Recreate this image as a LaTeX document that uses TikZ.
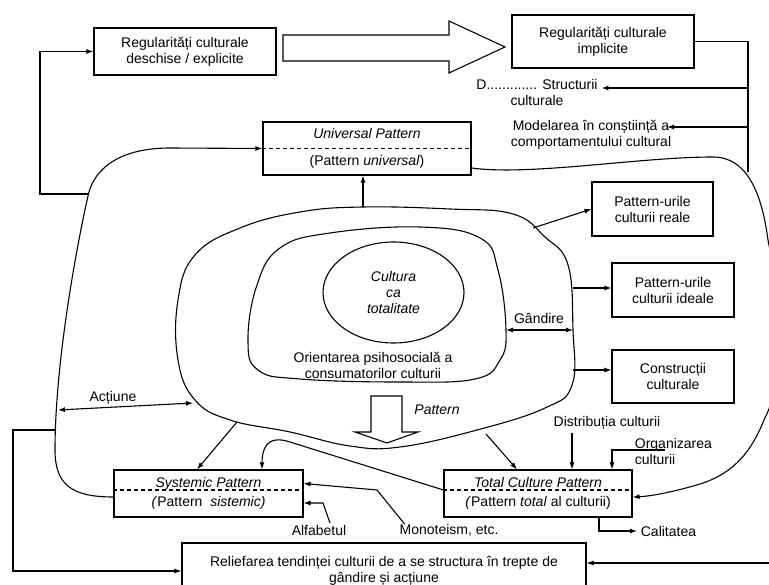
\documentclass[tikz,border=0pt]{standalone}
\usepackage{fontspec}
\setmainfont{Liberation Sans}
\usetikzlibrary{calc, positioning, arrows.meta, shapes.geometric}

\begin{document}
\begin{tikzpicture}[x=1pt, y=-1pt, line width=1.1pt,
  every node/.style={font=\fontsize{14}{16}\selectfont},
  box/.style={draw, align=center},
  arr/.style={-{Latex[length=7pt,width=5pt]}},
  darr/.style={{Latex[length=7pt,width=5pt]}-{Latex[length=7pt,width=5pt]}},
  sep/.style={dash pattern=on 4pt off 3pt}]
\useasboundingbox (0,0) rectangle (769,585);
\clip (0,0) rectangle (769,585);

% Regularitati - top row
\node[box, minimum width=182pt, minimum height=47pt] (reg1) at (185,51.5) {Regularități culturale\\deschise / explicite};
\node[box, minimum width=182pt, minimum height=53pt] (reg2) at (603,41.5) {Regularități culturale\\implicite};
\draw (283,35) -- (449,35) -- (449,21) -- (505,47) -- (449,73) -- (449,61) -- (283,61) -- cycle;
\node[align=center] (struct) at (537,92) {D............. Structurii\\culturale};
\node[align=center] (model) at (591,135) {Modelarea în conștiință a\\comportamentului cultural};

% Universal Pattern
\node[box, minimum width=208pt, minimum height=53pt] (univ) at (367,148.5) {\textit{Universal Pattern}\\[11pt](Pattern \textit{universal})};
\draw[sep] (univ.west) -- (univ.east);

% the two rings and the whole culture
\draw plot[smooth cycle, tension=0.7] coordinates {(363,207) (450,209) (513,214) (545,237) (568,265) (573,330) (572,385) (545,408) (477,430) (400,447) (350,446) (290,432) (230,420) (195,400) (178,360) (178,300) (195,255) (240,228) (300,212)};
\draw plot[smooth cycle, tension=0.7] coordinates {(280,248) (330,233) (420,227) (480,238) (498,270) (506,330) (500,360) (475,379) (400,382) (300,379) (258,370) (248,340) (257,285)};
\node[ellipse, draw, minimum width=141pt, minimum height=101pt, align=center, font=\fontsize{14}{16}\selectfont\itshape] (cult) at (393.5,292.5) {Cultura\\ca\\totalitate};
\node[align=center] (orient) at (373,365) {Orientarea psihosocială a\\consumatorilor culturii};
\node (gand) at (539,318) {Gândire};
\node (act) at (113,398) {Acțiune};
\draw (371,396) -- (402,396) -- (402,432) -- (418,432) -- (387,443) -- (355,432) -- (371,432) -- cycle;
\node (pat) at (437,410) {\textit{Pattern}};

% right column
\node[box, minimum width=121pt, minimum height=54pt] (reale) at (652.5,209) {Pattern-urile\\culturii reale};
\node[box, minimum width=122pt, minimum height=54pt] (ideale) at (673,290) {Pattern-urile\\culturii ideale};
\node[box, minimum width=122pt, minimum height=53pt] (constr) at (673,376.5) {Construcții\\culturale};

% bottom row
\node[box, minimum width=189pt, minimum height=47pt] (sys) at (208.5,493.5) {\textit{Systemic Pattern}\\[3pt]\textit{(}Pattern\ \ \textit{sistemic)}};
\draw[sep] ([yshift=3.5pt]sys.west) -- ([yshift=3.5pt]sys.east);
\node[box, minimum width=188pt, minimum height=47pt] (tot) at (538,493.5) {\textit{Total Culture Pattern}\\[3pt]\textit{(}Pattern \textit{total} al culturii)};
\draw[sep] ([yshift=3.5pt]tot.west) -- ([yshift=3.5pt]tot.east);
\node (alf) at (319,530) {Alfabetul};
\node (mono) at (449,530) {Monoteism, etc.};
\node (distr) at (607,423) {Distribuția culturii};
\node[align=left, anchor=west] (org) at (631,451) {Organizarea\\culturii};
\node[anchor=west] (calit) at (637,531) {Calitatea};
\node[box, minimum width=404pt, minimum height=56pt] (relief) at (384,571) {Reliefarea tendinței culturii de a se structura în trepte de\\gândire și acțiune};

% points on the curves
\coordinate (lt) at (88,194);
\coordinate (lb) at (55,430);
\coordinate (ac1) at (58,410);
\coordinate (ac2) at (193,403);
\coordinate (ringtop) at (363,207);
\coordinate (rA) at (533,228);
\coordinate (rB) at (573,288);
\coordinate (rC) at (573,370);
\coordinate (g1) at (506,330);
\coordinate (g2) at (573,330);
\coordinate (rS) at (237,422);
\coordinate (rT) at (486,434);
\coordinate (vA) at (748,88);
\coordinate (vB) at (748,127);
\coordinate (orgend) at (665,450);
\coordinate (rb) at (769,563);

% connectors
\draw (reg2.east) -- (748,41.5) -- (748,172);
\draw[arr] (vA) -- (vA -| struct.east);
\draw[arr] (vB) -- ($(vB -| model.east)+(-8,0)$);
\draw[arr] (lt) -- (40,194) |- (reg1.west);
\draw[arr] ([yshift=-3.5pt]sys.west) .. controls (72,497) and (55,485) .. (55,450) .. controls (55,360) and (78,240) .. (88,196) .. controls (92,175) and (112,148) .. (170,148) -- (univ.west);
\draw[arr] ([yshift=-19.5pt]univ.east) .. controls (530,176) and (640,157) .. (713,157) .. controls (748,157) and (762,195) .. (768,240) .. controls (778,290) and (790,370) .. (764,420) .. controls (752,450) and (735,473) .. (700,484) .. controls (680,490) and (655,496) .. ([yshift=-3.5pt]tot.east);
\draw[arr] (ringtop) -- (ringtop |- univ.south);
\draw[arr] (rA) -- (reale.west);
\draw[arr] (rB) -- (rB -| ideale.west);
\draw[arr] (rC) -- (rC -| constr.west);
\draw[darr] (g1) -- (g2);
\draw[darr] (ac1) -- (ac2);
\draw[arr] (rS) -- ([xshift=-11.5pt]sys.north);
\draw[arr] (rT) -- ([xshift=-21pt]tot.north);
\draw[arr] ([yshift=3.5pt]tot.west) -- (290,442) .. controls (266,434) and (262,450) .. ([xshift=53.5pt]sys.north);
\draw[arr] ([xshift=9pt,yshift=-4pt]mono.north west) -- (377,490) -- ([yshift=10pt]sys.east);
\draw[arr] ([xshift=11pt,yshift=-2pt]alf.north) -- (323,503) -- ([yshift=-9.5pt]sys.east);
\draw[arr] ([xshift=-35pt]distr.south) -- ([xshift=34pt]tot.north);
\draw[arr] (orgend) -| ([xshift=74pt]tot.north);
\draw[arr] ([xshift=61pt]tot.south) |- (calit.west);
\draw[arr] (lb) -- (13,430) |- (relief.west);
\draw[arr] (rb) -- (rb -| relief.east);
\end{tikzpicture}
\end{document}
